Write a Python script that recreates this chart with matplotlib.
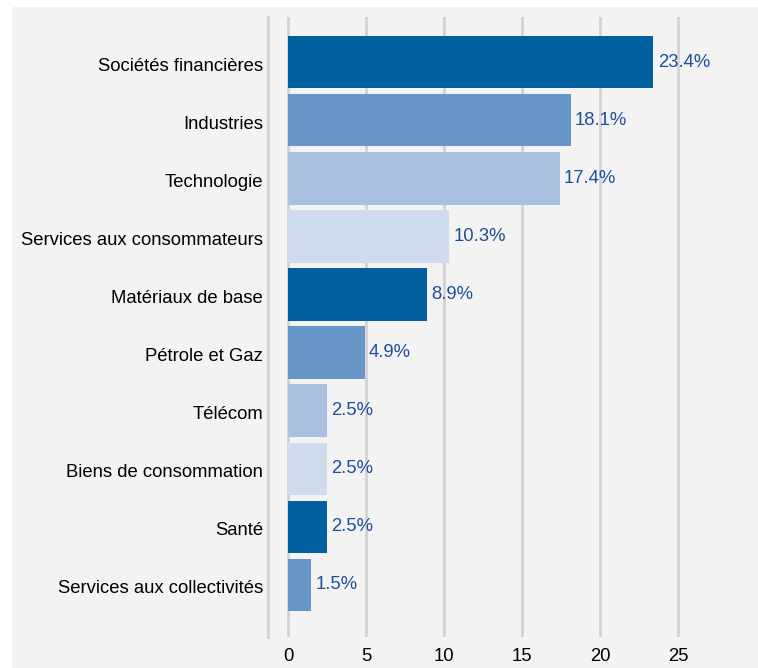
import matplotlib.pyplot as plt
import matplotlib.transforms as mtransforms
from matplotlib.patches import Rectangle

# Données du graphique (répartition sectorielle, %)
secteurs = ["Sociétés financières", "Industries", "Technologie",
            "Services aux consommateurs", "Matériaux de base", "Pétrole et Gaz",
            "Télécom", "Biens de consommation", "Santé",
            "Services aux collectivités"]
valeurs = [23.4, 18.1, 17.4, 10.3, 8.9, 4.9, 2.5, 2.5, 2.5, 1.5]
etiquettes = ["23.4%", "18.1%", "17.4%", "10.3%", "8.9%", "4.9%",
              "2.5%", "2.5%", "2.5%", "1.5%"]
graduations = [0, 5, 10, 15, 20, 25]

palette = ["#0060a0", "#6897c7", "#a9c0e0", "#cfdcee"]
couleurs = [palette[i % 4] for i in range(len(valeurs))]

plt.rcParams['font.family'] = ['Liberation Sans', 'DejaVu Sans']
taille = 13.3

W, H = 758, 668
fig = plt.figure(figsize=(W / 100, H / 100), dpi=100)
fig.patch.set_facecolor("white")
# panneau gris de fond
fig.patches.append(Rectangle((12 / W, 0), 1 - 12 / W, 1 - 7 / H,
                             transform=fig.transFigure, facecolor="#f3f3f3",
                             edgecolor="none", zorder=-10))

ax = fig.add_axes([268 / W, (H - 637) / H, (W - 268) / W, (637 - 17) / H])
ax.set_facecolor("none")
ax.set_zorder(5)

y = list(range(len(valeurs)))
ax.barh(y, valeurs, height=0.9, color=couleurs, zorder=3)
for yi, v, t in zip(y, valeurs, etiquettes):
    ax.text(v + 0.28, yi, t, va="center", ha="left", fontsize=taille,
            color="#1f4e9c", zorder=4)

ax.set_xlim(-1.28, 30.1)
ax.set_ylim(9.9, -0.78)
ax.set_yticks(y)
ax.set_yticklabels(secteurs, fontsize=taille)
ax.set_xticks(graduations)
ax.set_xticklabels([str(g) for g in graduations], fontsize=taille)
ax.tick_params(axis="both", length=0)
ax.tick_params(axis="y", pad=3.5)
ax.tick_params(axis="x", pad=8)

# léger décalage vertical des libellés
decal = mtransforms.ScaledTranslation(0, -2 / 100, fig.dpi_scale_trans)
for lab in ax.get_yticklabels():
    lab.set_transform(lab.get_transform() + decal)

for g in graduations:
    ax.axvline(g, color="#d3d3d3", linewidth=2, zorder=1)

for s in ["top", "right", "bottom"]:
    ax.spines[s].set_visible(False)
ax.spines["left"].set_color("#d3d3d3")
ax.spines["left"].set_linewidth(2)

fig.savefig("out.png", dpi=100)
